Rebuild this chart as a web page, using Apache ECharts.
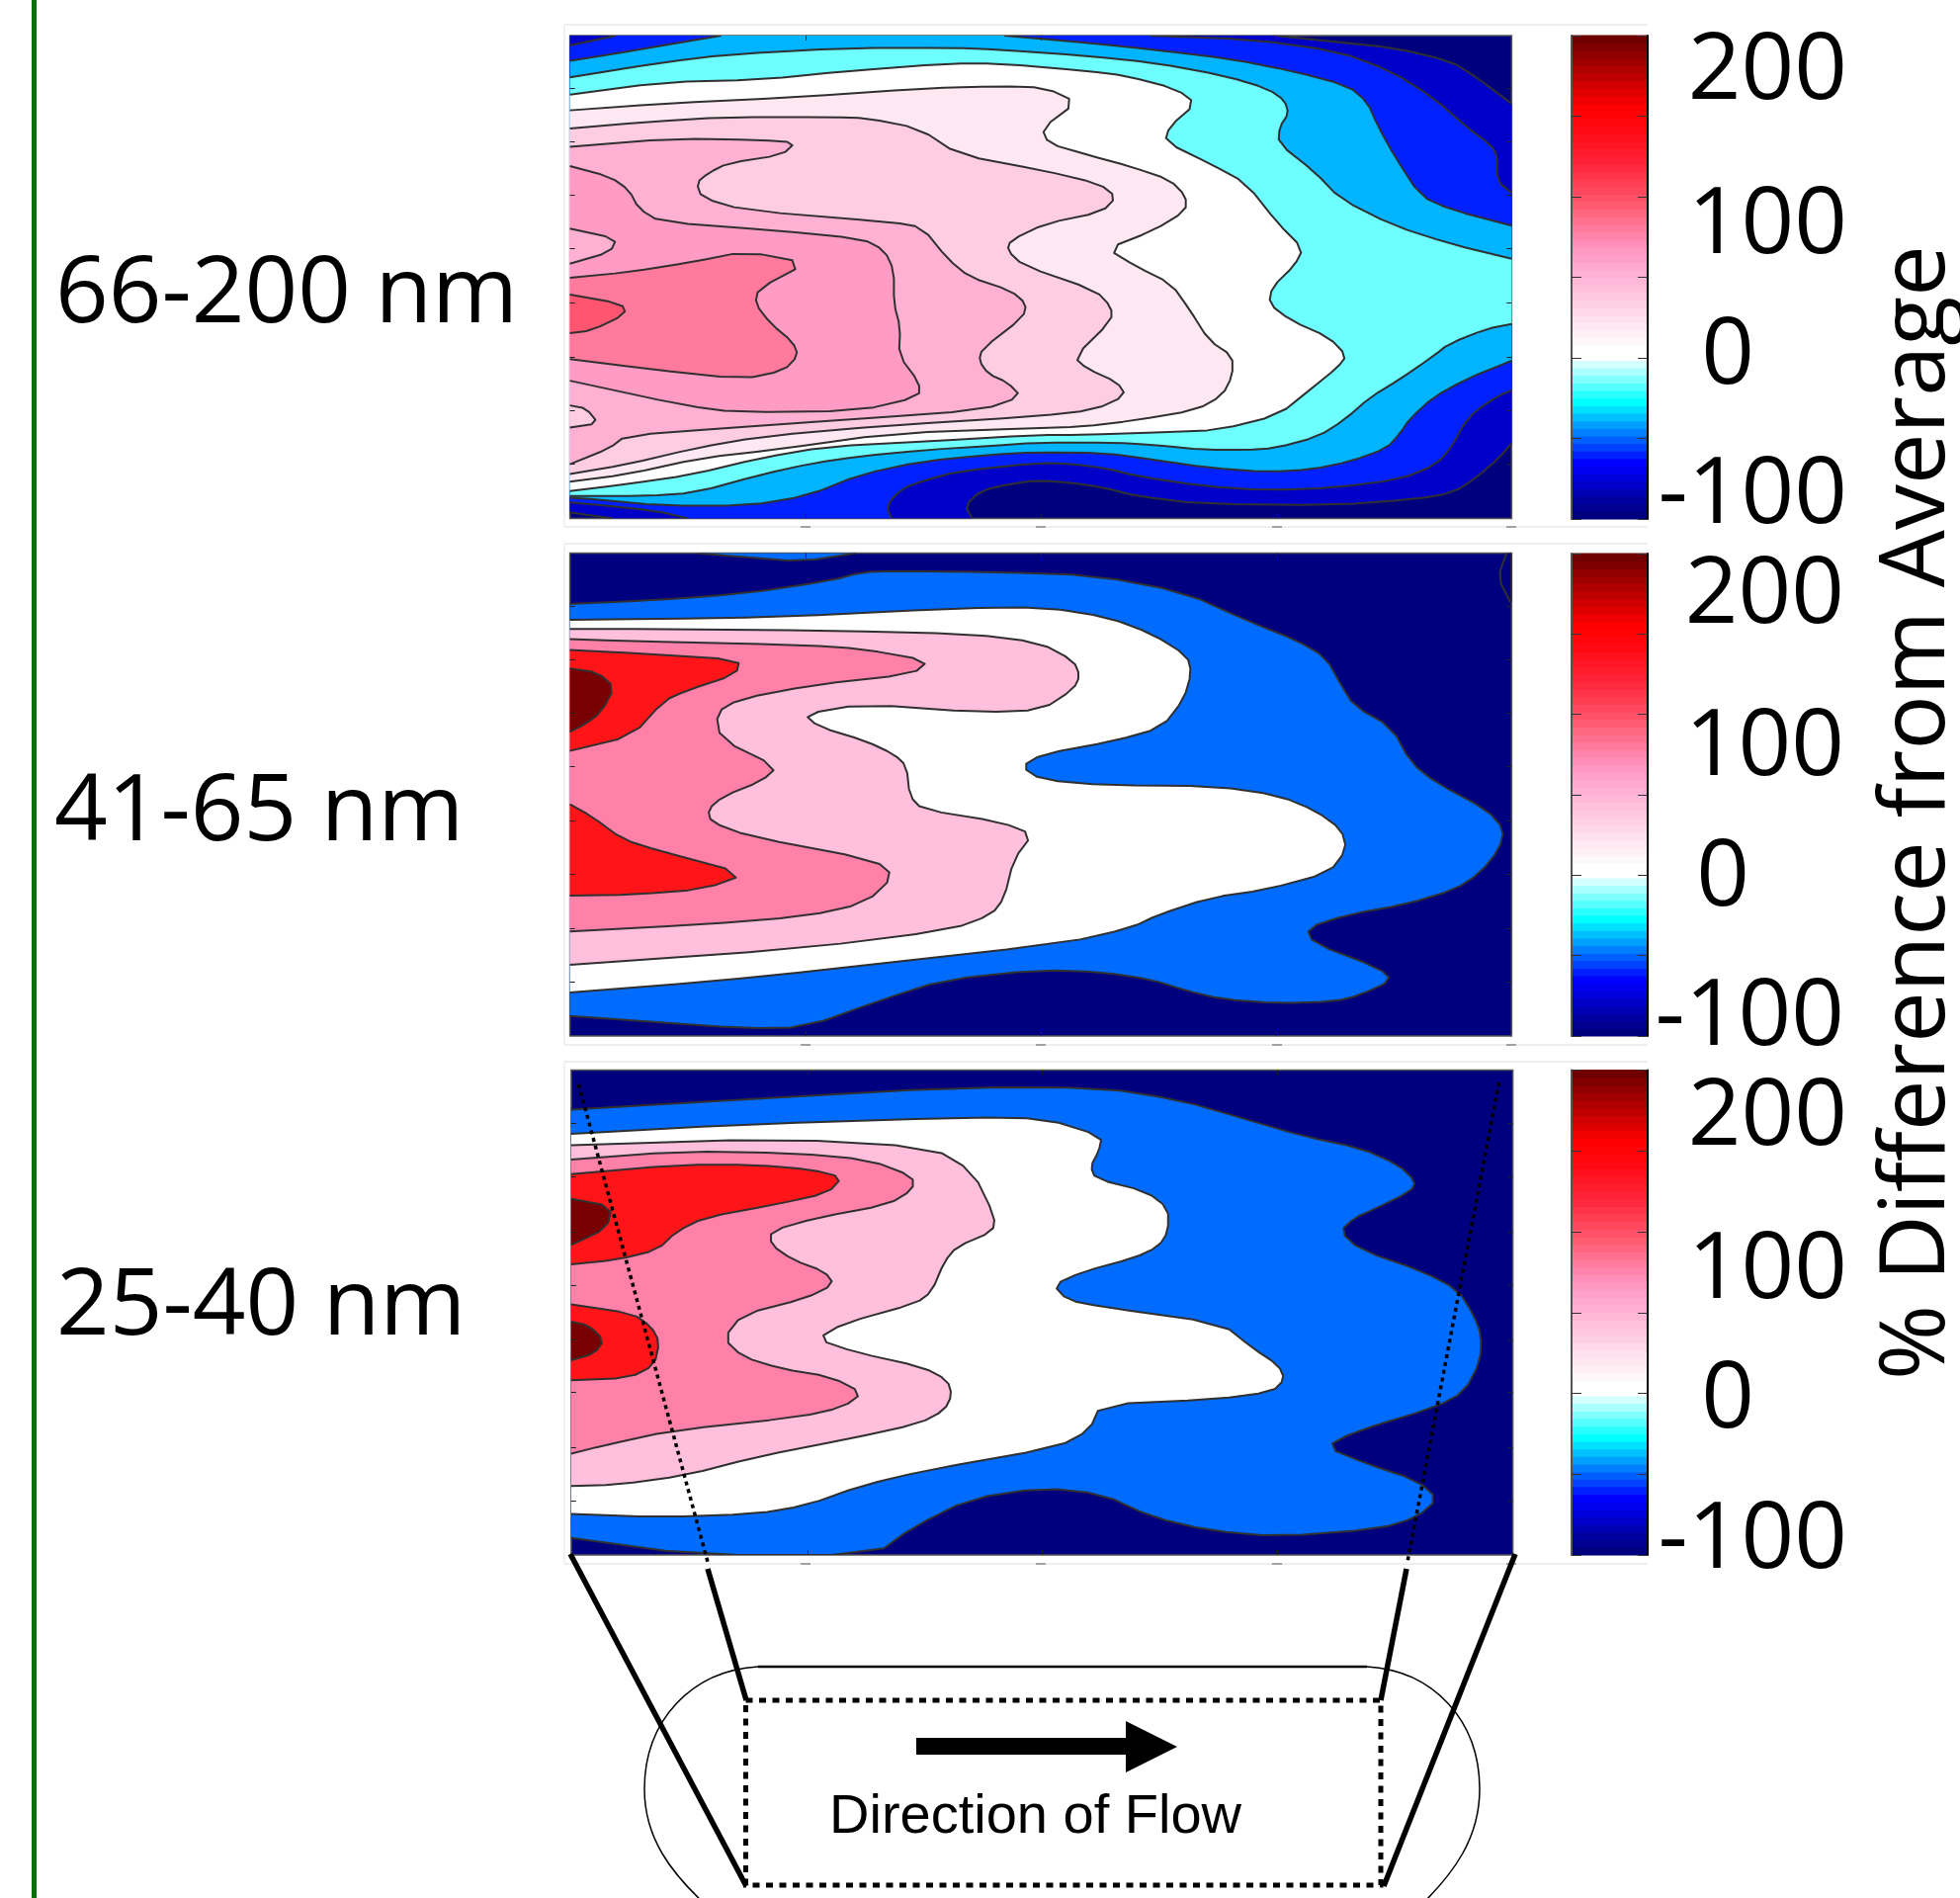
<!DOCTYPE html>
<html>
<head>
<meta charset="utf-8">
<style>html,body{margin:0;padding:0;background:#fff}#chart{width:1983px;height:1920px}</style>
<script src="https://cdn.jsdelivr.net/npm/echarts@6/dist/echarts.min.js"></script>
</head>
<body>
<div id="chart"></div>
<script>
// ---------- Panel titles and tick labels ----------
const sizeRanges = ['66-200 nm', '41-65 nm', '25-40 nm'];
const colorbarTicks = ['200', '100', '0', '-100'];
const axisTitle = '% Difference from Average';
const flowLabel = 'Direction of Flow';

// ---------- Level colours ----------
const NAVY = '#00007f', DKBLUE = '#0000c8', BLUE = '#0020ff', AZURE = '#00b4ff', CYAN = '#6dffff',
      WHITE = '#ffffff', PALE = '#ffe8f2', PINK1 = '#ffcde2', PINK2 = '#ffb0d3', PINK3 = '#ff9bc4',
      PINK4 = '#ff7a9c', PINK5 = '#ff5570',
      MIDBLUE = '#006cff', ROSE = '#ffbfdd', HOT = '#ff80a8', RED = '#ff1518', MAROON = '#780000';

// ---------- Colour bar, 64 steps from -100 to 200 ----------
const colorbarColors = ['#00007f','#000090','#0000a0','#0000b4','#0000c8','#0000dc','#0000f0',
 '#0000ff','#0020ff','#0040ff','#0060ff','#0080ff','#00a0ff','#00c0ff','#00e0ff','#00ffff',
 '#2affff','#55ffff','#80ffff','#aaffff','#d4ffff','#ffffff',
 '#ffffff','#fff8fb','#fff0f6','#ffe8f2','#ffe0ed','#ffd8e9','#ffd0e4','#ffc8e0','#ffc0dc','#ffb8d8','#ffb0d4','#ffa8d0','#ff9fcb','#ff99c4','#ff8fb8','#ff84ab','#ff7a9c',
 '#ff708e','#ff6680','#ff5c72','#ff5268','#ff485e','#ff3e54','#ff344a','#ff2a40','#ff2236','#ff1c2c','#ff1624','#ff101c','#ff0a14','#ff060c','#ff0306','#ff0000',
 '#f00000','#e00000','#d00000','#c00000','#b00000','#a00000','#900000','#800000','#700000'];

// ---------- Panel 1 (66-200 nm) contour lines, [along channel, across channel] ----------
const p1XRange = [26, 1520], p1YRange = [47, 1492];
const p1XTicks = [400, 773, 1147], p1YTicks = [205, 365, 525, 685, 848, 1008, 1168, 1330];
const p1DkTop = [[1145,47],[1244,67],[1333,84],[1422,123],[1461,168],[1520,251]];
const p1DkBottom = [[1520,1267],[1500,1311],[1464,1370],[1427,1415],[1369,1434],[1239,1452],[1030,1449],[925,1425],[873,1400],[821,1385],[768,1378],[721,1390],[677,1410],[653,1454],[664,1492]];
const p1DkWedge = [[94,1492],[26,1474]];
const p1BlueCorner = [[26,77],[99,47]];
const p1BlueTop = [[946,47],[1108,59],[1244,94],[1328,153],[1395,232],[1448,320],[1487,375],[1497,404],[1497,483],[1520,518]];
const p1BlueBottom = [[1520,1109],[1500,1124],[1464,1168],[1443,1213],[1427,1272],[1401,1331],[1343,1375],[1239,1400],[1134,1408],[1030,1395],[925,1365],[873,1341],[821,1329],[768,1326],[643,1351],[585,1380],[551,1405],[528,1454],[536,1492]];
const p1BlueWedge = [[214,1492],[162,1469],[68,1451],[26,1444]];
const p1AzureCorner = [[26,123],[120,94],[266,47]];
const p1AzureTop = [[715,47],[780,58],[847,69],[951,89],[1077,118],[1171,153],[1260,197],[1291,246],[1307,315],[1333,404],[1375,527],[1422,567],[1520,616]];
const p1AzureBottom = [[1520,1020],[1448,1075],[1396,1129],[1359,1193],[1343,1237],[1322,1282],[1265,1321],[1202,1346],[1134,1353],[1040,1341],[951,1316],[873,1296],[768,1294],[695,1301],[586,1321],[486,1361],[402,1425],[308,1454],[172,1454],[68,1435],[26,1430]];
const p1CyanTop = [[26,172],[173,128],[277,104],[470,84],[632,84],[706,89],[847,108],[951,128],[1066,168],[1134,207],[1160,242],[1166,281],[1152,320],[1150,370],[1207,454],[1249,537],[1333,616],[1422,670],[1520,715]];
const p1CyanBottom = [[1520,910],[1480,925],[1420,970],[1396,1006],[1343,1075],[1296,1129],[1254,1198],[1213,1247],[1145,1282],[1098,1287],[1035,1287],[951,1272],[889,1265],[768,1265],[695,1275],[591,1287],[486,1306],[413,1326],[329,1361],[225,1415],[146,1425],[26,1425]];
const p1White = [[26,224],[173,187],[329,179],[470,153],[627,131],[706,131],[847,153],[909,168],[988,207],[1019,251],[977,320],[970,365],[1045,434],[1098,488],[1150,611],[1189,685],[1176,734],[1140,800],[1135,850],[1170,900],[1230,950],[1258,1005],[1244,1040],[1202,1104],[1150,1183],[1056,1227],[977,1234],[836,1242],[768,1242],[591,1262],[434,1277],[329,1311],[220,1361],[115,1390],[26,1410]];
const p1Pale = [[26,271],[173,251],[382,232],[591,205],[706,199],[780,203],[830,247],[775,325],[785,370],[847,404],[915,439],[977,478],[1003,527],[1003,572],[951,631],[878,685],[925,739],[980,790],[1010,870],[1040,960],[1077,1006],[1077,1065],[1061,1124],[1019,1168],[925,1198],[836,1218],[768,1222],[538,1237],[350,1287],[235,1311],[115,1361],[26,1382]];
const p1Pink1 = [[26,325],[146,306],[277,291],[444,291],[497,294],[580,325],[643,404],[775,450],[865,490],[893,530],[870,575],[780,610],[725,660],[720,690],[745,735],[860,810],[885,860],[885,900],[826,1010],[847,1045],[894,1084],[908,1124],[857,1168],[768,1186],[538,1213],[329,1247],[225,1282],[115,1331],[26,1359]];
const p1Pink2 = [[26,380],[193,355],[329,360],[384,367],[363,404],[277,429],[246,458],[227,488],[235,532],[303,570],[538,606],[585,621],[625,715],[660,770],[725,810],[750,850],[745,890],[680,985],[675,1020],[690,1060],[720,1085],[742,1127],[680,1168],[480,1195],[277,1221],[115,1244],[89,1282],[26,1330]];
const p1Pink3 = [[26,438],[90,470],[120,510],[135,565],[170,605],[350,630],[490,655],[525,690],[540,750],[540,850],[550,920],[548,1005],[580,1085],[580,1128],[485,1170],[290,1175],[210,1155],[26,1080]];
const p1HoleUpper = [[26,625],[100,655],[90,695],[26,730]];
const p1HoleLower = [[26,1154],[52,1163],[71,1208],[26,1220]];
const p1Pink4 = [[26,772],[120,755],[220,725],[305,693],[402,728],[325,805],[320,850],[345,910],[380,965],[388,1005],[365,1050],[300,1075],[150,1045],[26,1015]];
const p1Pink5 = [[26,822],[108,850],[115,880],[60,930],[26,938]];

// ---------- Panel 2 (41-65 nm) contour lines ----------
const p2XRange = [26, 1520], p2YRange = [43, 1488];
const p2XTicks = [400, 773, 1147], p2YTicks = [203, 362, 522, 682, 845, 1003, 1167, 1325];
const p2BlueBlob = [[228,43],[300,55],[395,68],[480,43]];
const p2RightSliver = [[1512,43],[1498,115],[1518,190]];
const p2Blue = [[26,195],[150,185],[300,165],[440,125],[490,100],[540,97],[700,100],[860,110],[1000,160],[1100,245],[1180,305],[1225,355],[1250,440],[1270,500],[1330,565],[1360,670],[1400,730],[1480,810],[1508,870],[1500,930],[1470,1000],[1430,1050],[1350,1095],[1260,1125],[1195,1165],[1205,1210],[1310,1285],[1330,1322],[1280,1365],[1240,1385],[1150,1390],[1060,1378],[1000,1350],[950,1320],[870,1297],[770,1290],[620,1320],[520,1380],[400,1462],[300,1465],[150,1445],[26,1428]];
const p2White = [[26,243],[160,240],[350,235],[640,208],[780,205],[880,235],[950,285],[1005,350],[1012,400],[1000,480],[965,565],[890,605],[775,645],[742,682],[775,722],[880,738],[1050,740],[1150,768],[1210,815],[1250,870],[1258,930],[1230,1000],[1130,1050],[1040,1075],[960,1125],[915,1165],[810,1210],[430,1290],[250,1325],[26,1358]];
const p2Rose = [[26,270],[160,270],[440,275],[660,285],[770,310],[825,365],[835,410],[825,450],[775,512],[680,520],[490,495],[398,525],[420,562],[495,605],[540,645],[560,680],[565,770],[585,810],[710,848],[760,885],[730,960],[715,1075],[695,1125],[630,1170],[400,1225],[26,1275]];
const p2Hot = [[26,300],[100,305],[400,318],[490,330],[595,365],[570,405],[410,438],[295,480],[258,520],[265,600],[355,683],[330,725],[270,770],[245,810],[250,848],[310,890],[510,962],[540,1010],[495,1090],[400,1130],[230,1155],[26,1175]];
const p2RedUpper = [[26,333],[150,345],[295,362],[290,405],[210,455],[175,485],[125,590],[26,635]];
const p2RedLower = [[26,795],[60,830],[110,900],[170,935],[305,1003],[240,1048],[130,1065],[26,1068]];
const p2Maroon = [[26,388],[70,400],[97,445],[75,520],[50,555],[26,578]];

// ---------- Panel 3 (25-40 nm) contour lines ----------
const p3XRange = [28, 1522], p3YRange = [37, 1488];
const p3XTicks = [403, 775, 1148], p3YTicks = [197, 357, 520, 680, 843, 1002, 1167, 1325];
const p3Blue = [[28,155],[300,125],[650,88],[870,90],[990,125],[1100,185],[1190,235],[1280,270],[1340,320],[1368,370],[1360,400],[1300,455],[1270,480],[1248,520],[1280,575],[1380,640],[1435,695],[1460,770],[1472,830],[1470,910],[1445,1000],[1400,1045],[1270,1120],[1225,1165],[1290,1215],[1370,1265],[1403,1320],[1370,1375],[1310,1410],[1150,1433],[1040,1415],[950,1375],[870,1305],[775,1287],[660,1320],[570,1405],[510,1488],[225,1488],[28,1437]];
const p3White = [[28,228],[300,200],[660,178],[780,182],[870,235],[865,280],[852,325],[860,362],[940,400],[975,450],[975,520],[960,565],[920,600],[840,640],[793,680],[815,725],[870,745],[1060,795],[1110,870],[1150,920],[1160,962],[1140,1000],[1050,1022],[868,1038],[850,1115],[800,1165],[590,1235],[490,1280],[400,1340],[320,1365],[170,1375],[28,1365]];
const p3Rose = [[28,262],[360,242],[600,268],[665,340],[700,475],[697,520],[640,565],[620,610],[600,700],[575,735],[460,795],[418,842],[480,882],[585,925],[625,965],[632,1010],[620,1055],[580,1095],[470,1140],[320,1195],[210,1250],[100,1278],[28,1282]];
const p3Hot = [[28,305],[200,280],[380,285],[500,305],[570,355],[570,395],[530,440],[420,478],[345,518],[345,560],[380,605],[430,640],[445,678],[400,720],[300,768],[270,840],[300,895],[360,930],[440,955],[490,1003],[460,1045],[390,1075],[190,1115],[80,1160],[28,1185]];
const p3RedUpper = [[28,348],[200,320],[320,320],[410,335],[458,358],[435,405],[350,440],[240,478],[195,520],[165,575],[100,605],[28,618]];
const p3MaroonUpper = [[28,422],[92,445],[85,510],[28,560]];
const p3RedLower = [[28,738],[125,765],[155,805],[168,850],[160,920],[120,958],[28,965]];
const p3MaroonLower = [[28,790],[55,800],[80,845],[65,885],[28,905]];

// ---------- Filled levels, painted lowest first ----------
const panel1Bands = [
  [DKBLUE, [p1DkTop, p1DkBottom, p1DkWedge, [[26,47]]]],
  [BLUE, [p1BlueCorner, p1BlueTop, p1BlueBottom, p1BlueWedge]],
  [AZURE, [p1AzureCorner, p1AzureTop, p1AzureBottom]],
  [CYAN, [p1CyanTop, p1CyanBottom]],
  [WHITE, [p1White]], [PALE, [p1Pale]], [PINK1, [p1Pink1]], [PINK2, [p1Pink2]], [PINK3, [p1Pink3]],
  [PINK2, [p1HoleUpper]], [PINK1, [p1HoleLower]], [PINK4, [p1Pink4]], [PINK5, [p1Pink5]]
];
const panel2Bands = [
  [MIDBLUE, [p2BlueBlob]], [NAVY, [p2RightSliver, [[1520,190],[1520,43]]]],
  [MIDBLUE, [p2Blue]], [WHITE, [p2White]], [ROSE, [p2Rose]], [HOT, [p2Hot]],
  [RED, [p2RedUpper]], [RED, [p2RedLower]], [MAROON, [p2Maroon]]
];
const panel3Bands = [
  [MIDBLUE, [p3Blue]], [WHITE, [p3White]], [ROSE, [p3Rose]], [HOT, [p3Hot]],
  [RED, [p3RedUpper]], [MAROON, [p3MaroonUpper]], [RED, [p3RedLower]], [MAROON, [p3MaroonLower]]
];

// ---------- Layout (pixels) ----------
const contourRects = [
  {left: 576.6, top: 35.9, width: 952.8, height: 488.5},
  {left: 576.6, top: 559.5, width: 952.8, height: 488.5},
  {left: 577.9, top: 1082.5, width: 952.7, height: 490.5}
];
const barRects = [
  {left: 1590, top: 36, width: 77, height: 489},
  {left: 1590, top: 560, width: 77, height: 488},
  {left: 1590, top: 1082.5, width: 77, height: 490.5}
];
const panelDefs = [
  {bands: panel1Bands, xr: p1XRange, yr: p1YRange, xt: p1XTicks, yt: p1YTicks},
  {bands: panel2Bands, xr: p2XRange, yr: p2YRange, xt: p2XTicks, yt: p2YTicks},
  {bands: panel3Bands, xr: p3XRange, yr: p3YRange, xt: p3XTicks, yt: p3YTicks}
];

// Rounds the vertices of a drawn contour a little; the end points stay where they are.
const soften = (pts, f = 0.24) => {
  if (pts.length < 3) return pts;
  const out = [pts[0]];
  for (let i = 1; i < pts.length - 1; i++) {
    const [px, py] = pts[i - 1], [x, y] = pts[i], [nx, ny] = pts[i + 1];
    out.push([x + (px - x) * f, y + (py - y) * f], [x + (nx - x) * f, y + (ny - y) * f]);
  }
  out.push(pts[pts.length - 1]);
  return out;
};

const grids = [], xAxes = [], yAxes = [], series = [];

panelDefs.forEach((p, i) => {
  const g = grids.length;
  grids.push({...contourRects[i], show: true, backgroundColor: NAVY, borderColor: '#555', borderWidth: 1.5, containLabel: false});
  const tick = (vals) => ({show: true, inside: true, length: 5, customValues: vals, lineStyle: {color: '#222', width: 1}});
  ['bottom', 'top'].forEach(pos => xAxes.push({type: 'value', gridIndex: g, position: pos, min: p.xr[0], max: p.xr[1], z: 10,
    axisLine: {show: false, onZero: false}, axisTick: tick(p.xt), axisLabel: {show: false}, splitLine: {show: false}}));
  ['left', 'right'].forEach(pos => yAxes.push({type: 'value', gridIndex: g, position: pos, inverse: true, min: p.yr[0], max: p.yr[1], z: 10,
    axisLine: {show: false, onZero: false}, axisTick: tick(p.yt), axisLabel: {show: false}, splitLine: {show: false}}));
  const xIdx = xAxes.length - 2, yIdx = yAxes.length - 2;
  p.bands.forEach(([color, segs]) => {
    const pts = segs.flat();
    series.push({
      type: 'custom', coordinateSystem: 'cartesian2d', xAxisIndex: xIdx, yAxisIndex: yIdx,
      data: pts, encode: {x: 0, y: 1}, clip: true, silent: true, animation: false, z: 2,
      renderItem(params, api) {
        if (params.dataIndex !== 0) return null;
        const drawn = segs.map(s => soften(s.map(q => api.coord(q))));
        const children = [{type: 'polygon', shape: {points: drawn.flat()}, style: {fill: color, stroke: null}}];
        drawn.filter(s => s.length > 1).forEach(s => children.push({
          type: 'polyline', shape: {points: s},
          style: {fill: null, stroke: '#303030', lineWidth: 2, lineJoin: 'round'}
        }));
        return {type: 'group', children};
      }
    });
  });
});

barRects.forEach((r) => {
  const g = grids.length;
  grids.push({...r, show: false, containLabel: false});
  xAxes.push({type: 'value', gridIndex: g, min: 0, max: 1, show: false});
  const xIdx = xAxes.length - 1;
  [['left', '#555'], ['right', '#000']].forEach(([pos, col]) => yAxes.push({
    type: 'value', gridIndex: g, position: pos, min: -100, max: 200, interval: 50, z: 10,
    axisLine: {show: true, onZero: false, lineStyle: {color: col, width: 2}},
    axisTick: {show: true, inside: true, length: 10, lineStyle: {color: '#333', width: 1}},
    axisLabel: {show: false}, splitLine: {show: false}
  }));
  const yIdx = yAxes.length - 2;
  const step = 300 / colorbarColors.length;
  series.push({
    type: 'custom', coordinateSystem: 'cartesian2d', xAxisIndex: xIdx, yAxisIndex: yIdx, silent: true, animation: false, z: 2,
    data: colorbarColors.map((c, i) => [0, -100 + i * step, c]), encode: {x: 0, y: 1},
    renderItem(params, api) {
      const v = api.value(1);
      const a = api.coord([0, v]), b = api.coord([1, v + step]);
      return {type: 'rect', shape: {x: a[0], y: b[1] - 0.5, width: b[0] - a[0], height: a[1] - b[1] + 1},
        style: {fill: colorbarColors[params.dataIndex]}};
    }
  });
});

// ---------- Annotation drawing (text and the channel sketch) ----------
const BIG = '94px "Open Sans"';
const text = (t, x, y, align) => ({type: 'text', z: 100, silent: true, style: {text: t, x, y, font: BIG, fill: '#000', align, verticalAlign: 'middle'}});
const line = (x1, y1, x2, y2, lw, color, dash) => ({type: 'line', z: 100, silent: true, shape: {x1, y1, x2, y2}, style: {stroke: color || '#000', lineWidth: lw, lineDash: dash || null}});
const curve = (x1, y1, cpx1, cpy1, cpx2, cpy2, x2, y2) => ({type: 'bezierCurve', z: 99, silent: true, shape: {x1, y1, cpx1, cpy1, cpx2, cpy2, x2, y2}, style: {fill: null, stroke: '#000', lineWidth: 1.5}});
const graphics = [];

// Green page rule
graphics.push({type: 'rect', z: 1, silent: true, shape: {x: 32, y: 0, width: 5, height: 1920}, style: {fill: '#0a6e0a'}});

// Faint figure frames
[[25, 533], [550, 1057], [1074, 1582]].forEach(([t, b]) => {
  graphics.push(line(571, t, 1667, t, 1.5, '#e8e8e8'), line(571, b, 1667, b, 1.5, '#e8e8e8'), line(571, t, 571, b, 1.5, '#eeeeee'));
  [815, 1053, 1292, 1529].forEach(x => graphics.push(line(x - 5, b, x + 5, b, 1.5, '#888')));
});

// Panel labels
[[sizeRanges[0], 56, 299], [sizeRanges[1], 55, 823], [sizeRanges[2], 57, 1323]].forEach(([t, x, y]) => graphics.push(text(t, x, y, 'left')));

// Colour bar labels
[[1869, 1748, 73, 229, 361, 502], [1866, 1743, 603, 757, 889, 1030], [1869, 1748, 1131, 1286, 1417, 1559]].forEach(([rx, cx, a, b, c, d]) => {
  graphics.push(text(colorbarTicks[0], rx, a, 'right'), text(colorbarTicks[1], rx, b, 'right'), text(colorbarTicks[2], cx, c, 'center'), text(colorbarTicks[3], rx, d, 'right'));
});

// Rotated colour bar title
graphics.push({type: 'text', z: 100, silent: true, x: 1941, y: 822, rotation: Math.PI / 2,
  style: {text: axisTitle, x: 0, y: 0, font: '92px "Open Sans"', fill: '#000', align: 'center', verticalAlign: 'middle'}});

// Dotted guides over the lowest panel, and the sketch below
graphics.push(line(585.5, 1097, 716, 1580, 3.5, '#000', [4, 4]), line(1516.6, 1095, 1424, 1580, 3.5, '#000', [4, 4]));
graphics.push(line(577, 1572, 755, 1908, 5.5), line(1533, 1572, 1400, 1908, 5.5), line(716, 1587, 755, 1720, 5.5), line(1423, 1587, 1397, 1720, 5.5));
graphics.push({type: 'rect', z: 100, silent: true, shape: {x: 754.5, y: 1720, width: 642.5, height: 187}, style: {fill: null, stroke: '#000', lineWidth: 5, lineDash: [7, 6.5]}});
graphics.push(curve(767, 1686, 700, 1690, 652, 1740, 652, 1810), curve(652, 1810, 652, 1860, 680, 1895, 712, 1925),
  curve(1383, 1686, 1450, 1690, 1497, 1740, 1497, 1810), curve(1497, 1810, 1497, 1860, 1470, 1895, 1440, 1925),
  line(767, 1686, 1383, 1686, 2.5));
graphics.push({type: 'polygon', z: 100, silent: true, shape: {points: [[927,1758],[1139,1758],[1139,1741],[1191,1767],[1139,1793],[1139,1775],[927,1775]]}, style: {fill: '#000'}});
graphics.push({type: 'text', z: 100, silent: true, style: {text: flowLabel, x: 839, y: 1839, font: '56px "Liberation Sans"', fill: '#000', align: 'left', verticalAlign: 'middle'}});

const chart = echarts.init(document.getElementById('chart'), null, {renderer: 'canvas', width: 1983, height: 1920});
chart.setOption({
  animation: false,
  backgroundColor: '#fff',
  grid: grids, xAxis: xAxes, yAxis: yAxes, series, graphic: {elements: graphics}
});
</script>
</body>
</html>
